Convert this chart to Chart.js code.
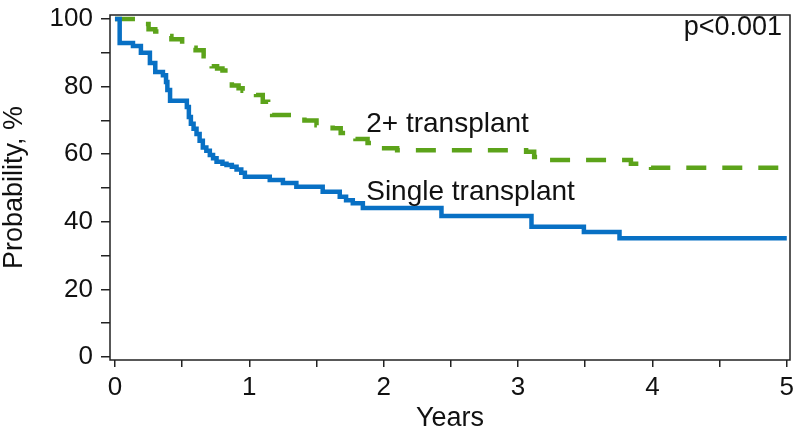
<!DOCTYPE html>
<html>
<head>
<meta charset="utf-8">
<script src="https://cdn.jsdelivr.net/npm/chart.js@4/dist/chart.umd.min.js"></script>
<style>
  html, body { margin: 0; padding: 0; background: #fff; }
  #wrap { width: 800px; height: 433px; }
</style>
</head>
<body>
<div id="wrap"><canvas id="km"></canvas></div>
<script>
// Kaplan-Meier estimates (years, % surviving)
var singleYears = [0, 0.035, 0.134, 0.193, 0.26, 0.30, 0.357, 0.38, 0.39, 0.41, 0.535, 0.55, 0.565, 0.585, 0.607, 0.63, 0.654, 0.68, 0.706, 0.73, 0.756, 0.80, 0.83, 0.87, 0.905, 0.94, 0.967, 1.152, 1.25, 1.35, 1.546, 1.673, 1.72, 1.77, 1.845, 2.43, 3.10, 3.49, 3.755, 5.0];
var singleSurv  = [100, 92.9, 92, 90, 87, 84.3, 83.4, 81.4, 79, 75.8, 74, 71, 69, 67.5, 66, 64, 62, 61, 59.8, 58.8, 57.8, 57.2, 56.8, 56.3, 55.5, 54.5, 53.3, 52.4, 51.5, 50.4, 48.9, 47.4, 46.4, 45.5, 44.1, 41.7, 38.5, 37, 35.1, 35.1];

var multiYears = [0, 0.2, 0.25, 0.3, 0.36, 0.42, 0.5, 0.56, 0.6, 0.66, 0.72, 0.76, 0.8, 0.87, 0.92, 0.95, 1.05, 1.1, 1.14, 1.17, 1.41, 1.5, 1.62, 1.68, 1.72, 1.79, 1.88, 1.97, 2.1, 3.06, 3.12, 3.2, 3.84, 3.99, 5.0];
var multiSurv  = [100, 98.5, 97, 96.3, 95, 94, 92.5, 91.5, 90.8, 89, 86, 85.4, 84.8, 80.3, 79.5, 78.8, 77.5, 75.5, 74, 71.6, 70, 68.6, 67.7, 66.3, 65.2, 64.5, 63.3, 61.8, 61.2, 60.7, 59.2, 58.3, 57.2, 56, 56];

var xTicks = [0, 0.5, 1, 1.5, 2, 2.5, 3, 3.5, 4, 4.5, 5];
var yTicks = [0, 10, 20, 30, 40, 50, 60, 70, 80, 90, 100];

var seriesNames = ['2+ transplant', 'Single transplant'];
var pText = 'p<0.001';

var FONT = "'Liberation Sans', Arial, sans-serif";
var INK = '#222';

function toPoints(xs, ys) {
    return xs.map(function(x, i) { return { x: x, y: ys[i] }; });
}

// box round the plot + in-plot labels
var framePlugin = {
    id: 'frame',
    afterDatasetsDraw: function(chart) {
        var ctx = chart.ctx;
        var a = chart.chartArea;
        var xs = chart.scales.x, ys = chart.scales.y;
        ctx.save();
        ctx.strokeStyle = INK;
        ctx.lineWidth = 1.5;
        ctx.strokeRect(a.left, a.top, a.right - a.left, a.bottom - a.top);

        ctx.fillStyle = '#111';
        ctx.font = '28px ' + FONT;
        ctx.textBaseline = 'alphabetic';
        ctx.textAlign = 'left';
        ctx.fillText(seriesNames[0], xs.getPixelForValue(1.87), ys.getPixelForValue(66.7));
        ctx.fillText(seriesNames[1], xs.getPixelForValue(1.87), ys.getPixelForValue(46.4));

        ctx.font = '27px ' + FONT;
        ctx.textAlign = 'right';
        ctx.fillText(pText, a.right - 8, a.top + 20);
        ctx.restore();
    }
};

// keep tick labels from pushing the plot area in
function noOverflow(scale) {
    scale.paddingTop = 0;
    scale.paddingBottom = 0;
    scale.paddingLeft = 0;
    scale.paddingRight = 0;
}

var ctx = document.getElementById('km').getContext('2d');
new Chart(ctx, {
    type: 'line',
    data: {
        datasets: [
            {
                label: seriesNames[1],
                data: toPoints(singleYears, singleSurv),
                borderColor: '#0870c4',
                borderWidth: 4.5,
                stepped: true,
                pointRadius: 0,
                fill: false
            },
            {
                label: seriesNames[0],
                data: toPoints(multiYears, multiSurv),
                borderColor: '#5ca31a',
                borderWidth: 4.5,
                borderDash: [20, 16],
                stepped: true,
                pointRadius: 0,
                fill: false
            }
        ]
    },
    options: {
        responsive: true,
        maintainAspectRatio: false,
        animation: false,
        layout: { padding: { top: 15, right: 10, left: 0, bottom: 0 } },
        plugins: {
            legend: { display: false },
            tooltip: { enabled: false }
        },
        scales: {
            x: {
                type: 'linear',
                min: -0.037,
                max: 5.024,
                afterBuildTicks: function(scale) {
                    scale.ticks = xTicks.map(function(v) { return { value: v }; });
                },
                afterFit: function(scale) { scale.height = 73; noOverflow(scale); },
                border: { display: false },
                grid: { drawOnChartArea: false, drawTicks: true, tickLength: 7, color: INK, lineWidth: 1.5 },
                ticks: {
                    color: '#111',
                    font: { family: FONT, size: 26 },
                    padding: 5,
                    maxRotation: 0,
                    autoSkip: false,
                    callback: function(v) { return Number.isInteger(v) ? String(v) : ''; }
                },
                title: {
                    display: true,
                    text: 'Years',
                    color: '#111',
                    font: { family: FONT, size: 27, lineHeight: 1.0 },
                    padding: { top: 0, bottom: 1 }
                }
            },
            y: {
                type: 'linear',
                min: -0.9,
                max: 101.2,
                afterBuildTicks: function(scale) {
                    scale.ticks = yTicks.map(function(v) { return { value: v }; });
                },
                afterFit: function(scale) { scale.width = 110; noOverflow(scale); },
                border: { display: false },
                grid: { drawOnChartArea: false, drawTicks: true, tickLength: 9, color: INK, lineWidth: 1.5 },
                ticks: {
                    color: '#111',
                    font: { family: FONT, size: 26 },
                    padding: 8,
                    autoSkip: false,
                    callback: function(v) { return v % 20 === 0 ? String(v) : ''; }
                },
                title: {
                    display: true,
                    text: 'Probability, %',
                    color: '#111',
                    font: { family: FONT, size: 27, lineHeight: 1.0 },
                    padding: { top: 1, bottom: 0 }
                }
            }
        }
    },
    plugins: [framePlugin]
});
</script>
</body>
</html>
